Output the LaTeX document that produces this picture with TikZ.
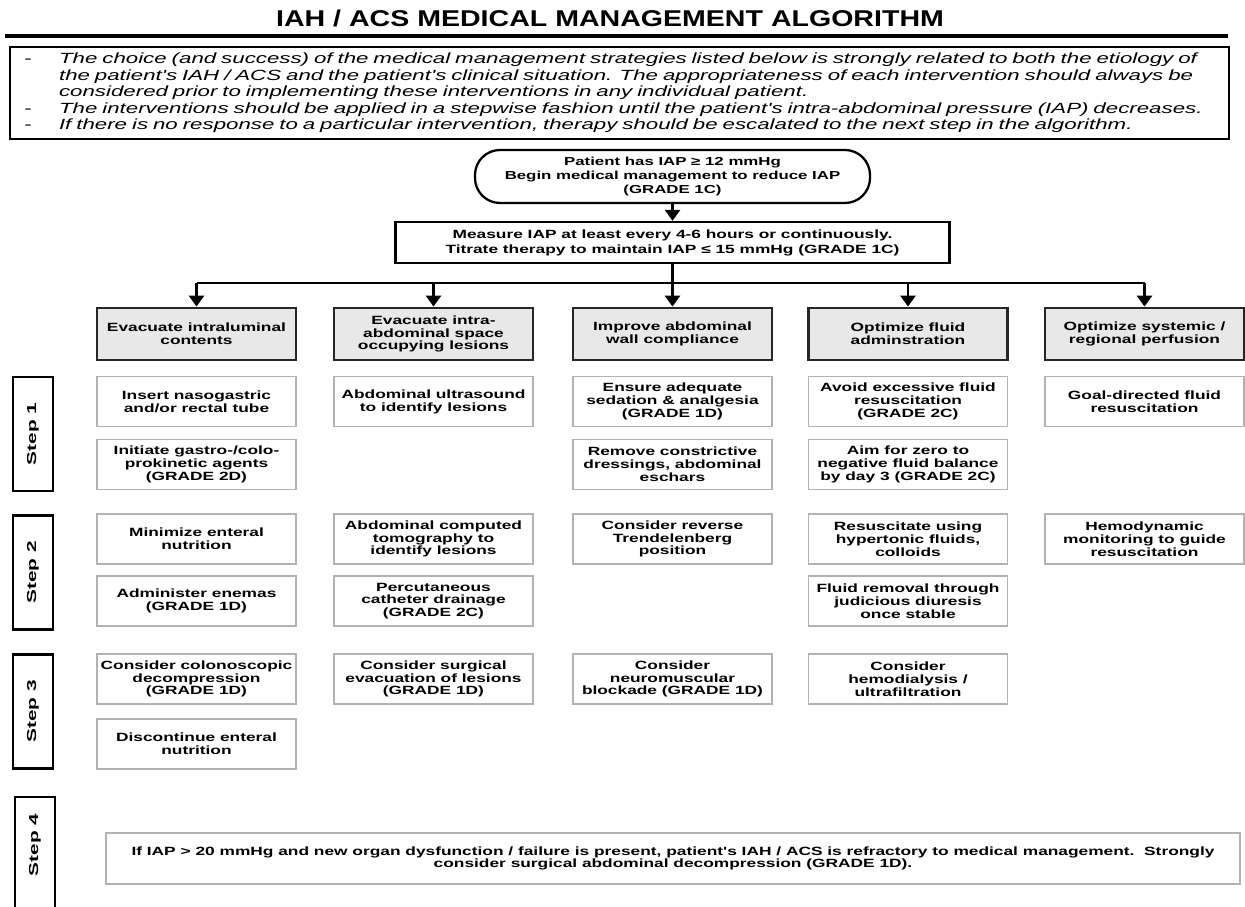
\documentclass[tikz,border=0pt]{standalone}
\usepackage{fontspec}
\setmainfont{Liberation Sans}
\newfontfamily\cajafont[FakeStretch=1.45]{Liberation Sans}
\newfontfamily\notafont[FakeStretch=1.51]{Liberation Sans}
\newfontfamily\titulofont[FakeStretch=1.25]{Liberation Sans}
\newfontfamily\pasofont[FakeStretch=1.6]{Liberation Sans}
\usetikzlibrary{arrows.meta}
\hyphenpenalty=10000

\begin{document}
\begin{tikzpicture}[
            titulo/.style={font=\titulofont\bfseries\fontsize{13}{15}\selectfont},
            notas/.style={draw=black, line width=1.2pt, anchor=north west, text width=23.82cm, inner xsep=0.28cm, minimum height=1.76cm, align=left, font=\notafont\itshape\fontsize{8.4}{9.4}\selectfont},
            inicio/.style={draw=black, line width=1.3pt, rounded corners=0.5cm, minimum width=7.9cm, minimum height=1.06cm, align=center, inner sep=1pt, font=\cajafont\bfseries\fontsize{6.6}{7.7}\selectfont},
            medida/.style={draw=black, line width=1.3pt, minimum width=11.08cm, minimum height=0.82cm, align=center, inner sep=1pt, font=\cajafont\bfseries\fontsize{6.8}{8.6}\selectfont},
            categoria/.style={draw=black!85, fill=gray!18, line width=1.6pt, minimum width=3.98cm, minimum height=1.04cm, align=center, inner sep=1pt, font=\cajafont\bfseries\fontsize{6.8}{7.3}\selectfont},
            caja/.style={draw=gray!60, fill=white, line width=0.8pt, minimum width=3.98cm, minimum height=1.0cm, align=center, inner sep=1pt, font=\cajafont\bfseries\fontsize{6.8}{7.3}\selectfont},
            paso/.style={draw=black, fill=white, line width=1.6pt, rotate=90, minimum width=2.28cm, minimum height=0.8cm, inner sep=1pt, font=\pasofont\bfseries\fontsize{7.4}{8}\selectfont},
            linea/.style={line width=1.6pt, draw=black},
            flecha/.style={linea, -{Triangle[width=0.3cm, length=0.22cm]}}
        ]
        \useasboundingbox (0,0) rectangle (24.9,-18.14);
        \clip (0,0) rectangle (24.9,-18.14);

        % --- CABECERA ---
        \node[titulo] (tit) at (12.2,-0.36) {IAH / ACS MEDICAL MANAGEMENT ALGORITHM};
        \draw[line width=2.3pt] (0.1,-0.72) -- (24.56,-0.72);
        \node[notas] (nota) at (0.18,-0.92) {%
            \makebox[0.7cm][l]{-}The choice (and success) of the medical management strategies listed below is strongly related to both the etiology of\\
            \hspace*{0.7cm}the patient's IAH / ACS and the patient's clinical situation. The appropriateness of each intervention should always be\\
            \hspace*{0.7cm}considered prior to implementing these interventions in any individual patient.\\
            \makebox[0.7cm][l]{-}The interventions should be applied in a stepwise fashion until the patient's intra-abdominal pressure (IAP) decreases.\\
            \makebox[0.7cm][l]{-}If there is no response to a particular intervention, therapy should be escalated to the next step in the algorithm.};

        % --- INICIO ---
        \node[inicio] (ini) at (13.45,-3.53) {Patient has IAP ≥ 12 mmHg\\Begin medical management to reduce IAP\\(GRADE 1C)};
        \node[medida] (med) at (13.45,-4.85) {Measure IAP at least every 4-6 hours or continuously.\\Titrate therapy to maintain IAP ≤ 15 mmHg (GRADE 1C)};
        \coordinate (barra) at (13.45,-5.66);

        % --- CATEGORIAS ---
        \node[categoria] (CatA) at (3.93,-6.68) {Evacuate intraluminal\\contents};
        \node[categoria] (CatB) at (8.67,-6.68) {Evacuate intra-\\abdominal space\\occupying lesions};
        \node[categoria] (CatC) at (13.45,-6.68) {Improve abdominal\\wall compliance};
        \node[categoria] (CatD) at (18.16,-6.68) {Optimize fluid\\adminstration};
        \node[categoria] (CatE) at (22.89,-6.68) {Optimize systemic /\\regional perfusion};

        \draw[flecha] (ini.south) -- (med.north);
        \draw[linea] (med.south) -- (barra);
        \draw[linea] (CatA.north |- barra) -- (CatE.north |- barra);
        \draw[flecha] (CatA.north |- barra) -- (CatA.north);
        \draw[flecha] (CatB.north |- barra) -- (CatB.north);
        \draw[flecha] (barra) -- (CatC.north);
        \draw[flecha] (CatD.north |- barra) -- (CatD.north);
        \draw[flecha] (CatE.north |- barra) -- (CatE.north);

        % --- PASOS ---
        \node[paso] (P1) at (0.66,-8.68) {Step 1};
        \node[paso] (P2) at (0.66,-11.45) {Step 2};
        \node[paso] (P3) at (0.66,-14.23) {Step 3};
        \node[paso, minimum width=2.4cm] (P4) at (0.7,-17.14) {\hspace*{0.48cm}Step 4};

        % --- COLUMNA A ---
        \node[caja] (A1) at (3.93,-8.03) {Insert nasogastric\\and/or rectal tube};
        \node[caja] (A2) at (3.93,-9.29) {Initiate gastro-/colo-\\prokinetic agents\\(GRADE 2D)};
        \node[caja] (A3) at (3.93,-10.78) {Minimize enteral\\nutrition};
        \node[caja] (A4) at (3.93,-12.02) {Administer enemas\\(GRADE 1D)};
        \node[caja] (A5) at (3.93,-13.58) {Consider colonoscopic\\decompression\\(GRADE 1D)};
        \node[caja] (A6) at (3.93,-14.88) {Discontinue enteral\\nutrition};

        % --- COLUMNA B ---
        \node[caja] (B1) at (8.67,-8.03) {Abdominal ultrasound\\to identify lesions};
        \node[caja] (B3) at (8.67,-10.78) {Abdominal computed\\tomography to\\identify lesions};
        \node[caja] (B4) at (8.67,-12.02) {Percutaneous\\catheter drainage\\(GRADE 2C)};
        \node[caja] (B5) at (8.67,-13.58) {Consider surgical\\evacuation of lesions\\(GRADE 1D)};

        % --- COLUMNA C ---
        \node[caja] (C1) at (13.45,-8.03) {Ensure adequate\\sedation \& analgesia\\(GRADE 1D)};
        \node[caja] (C2) at (13.45,-9.29) {Remove constrictive\\dressings, abdominal\\eschars};
        \node[caja] (C3) at (13.45,-10.78) {Consider reverse\\Trendelenberg\\position};
        \node[caja] (C5) at (13.45,-13.58) {Consider\\neuromuscular\\blockade (GRADE 1D)};

        % --- COLUMNA D ---
        \node[caja] (D1) at (18.16,-8.03) {Avoid excessive fluid\\resuscitation\\(GRADE 2C)};
        \node[caja] (D2) at (18.16,-9.29) {Aim for zero to\\negative fluid balance\\by day 3 (GRADE 2C)};
        \node[caja] (D3) at (18.16,-10.78) {Resuscitate using\\hypertonic fluids,\\colloids};
        \node[caja] (D4) at (18.16,-12.02) {Fluid removal through\\judicious diuresis\\once stable};
        \node[caja] (D5) at (18.16,-13.58) {Consider\\hemodialysis /\\ultrafiltration};

        % --- COLUMNA E ---
        \node[caja] (E1) at (22.89,-8.03) {Goal-directed fluid\\resuscitation};
        \node[caja] (E3) at (22.89,-10.78) {Hemodynamic\\monitoring to guide\\resuscitation};

        % --- PASO 4 ---
        \node[caja, minimum width=22.68cm, minimum height=1.02cm] (fin) at (13.46,-17.17) {If IAP > 20 mmHg and new organ dysfunction / failure is present, patient's IAH / ACS is refractory to medical management.\ \ Strongly\\consider surgical abdominal decompression (GRADE 1D).};
    \end{tikzpicture}
\end{document}
